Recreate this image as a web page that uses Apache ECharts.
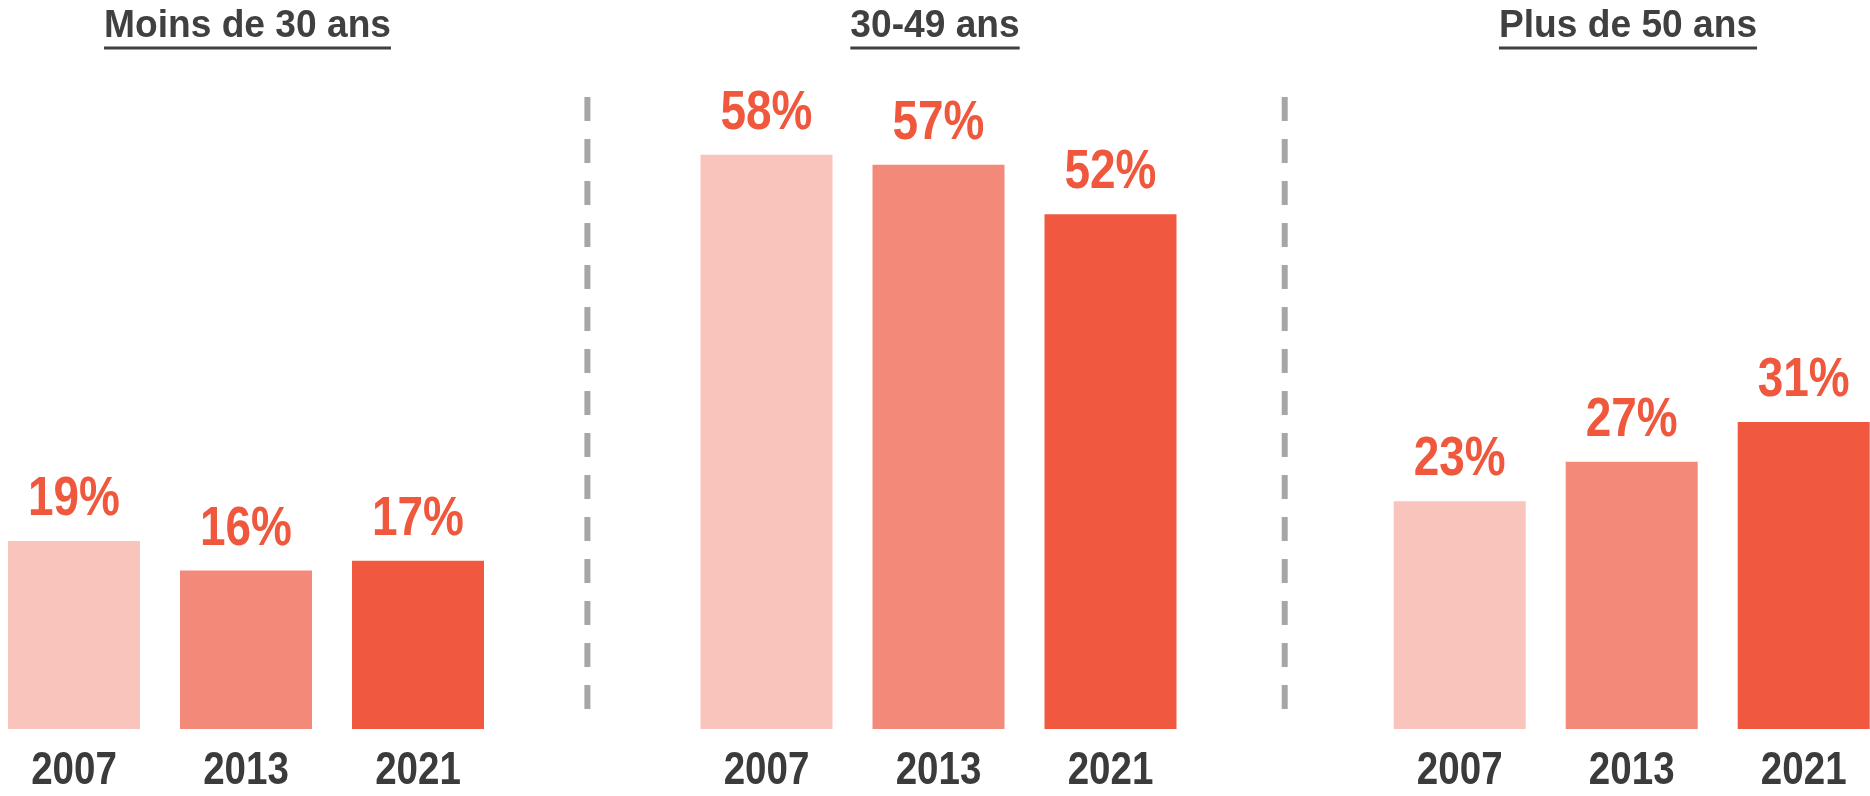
<!DOCTYPE html>
<html>
<head>
<meta charset="utf-8">
<script src="https://cdn.jsdelivr.net/npm/echarts@6/dist/echarts.min.js"></script>
<style>
html,body{margin:0;padding:0;background:#fff;}
#chart{width:1870px;height:796px;}
</style>
</head>
<body>
<div id="chart"></div>
<script>
// ---- data ----
const groupTitles = ['Moins de 30 ans', '30-49 ans', 'Plus de 50 ans'];
const years = ['2007', '2013', '2021'];
const moins30 = [19, 16, 17];
const age30to49 = [58, 57, 52];
const plus50 = [23, 27, 31];
const yearColors = ['#F9C4BB', '#F38A79', '#F0593F'];

// ---- layout ----
const panelValues = [moins30, age30to49, plus50];
const pitch = 172;                        // px between bar centres
const gridLeft = [0, 680.5, 1373.7];
const gridRight = [504, 1196.5, 1870];
const firstCentre = [74, 766.5, 1459.7];
const titleCentres = [247.5, 935, 1628];
const separatorsX = [587.4, 1284.7];
const gridTop = 135, gridBottomPx = 729;

const narrowFamily = "'Liberation Sans', Arial, sans-serif";
const narrowScale = 0.82;                 // emulate Arial Narrow Bold
const titleFont = "bold 38.5px 'Liberation Sans', Arial, sans-serif";
const titleScale = 0.965;

const chart = echarts.init(document.getElementById('chart'), null, {renderer: 'canvas'});

const grids = [], xAxes = [], yAxes = [], series = [];
panelValues.forEach((vals, i) => {
  const xmin = -(firstCentre[i] - gridLeft[i]) / pitch;
  const xmax = xmin + (gridRight[i] - gridLeft[i]) / pitch;
  grids.push({left: gridLeft[i], width: gridRight[i] - gridLeft[i], top: gridTop, bottom: 796 - gridBottomPx});
  xAxes.push({type: 'value', gridIndex: i, min: xmin, max: xmax, show: false, splitLine: {show: false}});
  yAxes.push({type: 'value', gridIndex: i, min: 0, max: 60, show: false, splitLine: {show: false}});
  const pts = vals.map((v, j) => [j, v]);
  series.push({
    type: 'bar', xAxisIndex: i, yAxisIndex: i, barWidth: 132, silent: true,
    data: pts.map((p, j) => ({value: p, itemStyle: {color: yearColors[j]}}))
  });
  // value labels
  series.push({
    type: 'custom', xAxisIndex: i, yAxisIndex: i, silent: true, clip: false,
    encode: {x: 0, y: 1},
    data: pts,
    renderItem: (params, api) => {
      const c = api.coord([api.value(0), api.value(1)]);
      return {
        type: 'text', x: c[0], y: c[1] - 41.4, scaleX: narrowScale, scaleY: 1,
        style: {text: api.value(1) + '%', font: "bold 56px " + narrowFamily, fill: '#F0583E',
                align: 'center', verticalAlign: 'middle'}
      };
    }
  });
  // year (category) labels
  series.push({
    type: 'custom', xAxisIndex: i, yAxisIndex: i, silent: true, clip: false,
    encode: {x: 0, y: 1},
    data: years.map((y, j) => [j, 0]),
    renderItem: (params, api) => {
      const c = api.coord([api.value(0), 0]);
      return {
        type: 'text', x: c[0], y: c[1] + 42.5, scaleX: narrowScale, scaleY: 1,
        style: {text: years[params.dataIndex], font: "bold 47px " + narrowFamily, fill: '#3B3B3B',
                align: 'center', verticalAlign: 'middle'}
      };
    }
  });
});

// titles with underline
const mctx = document.createElement('canvas').getContext('2d');
mctx.font = titleFont;
const graphics = [];
groupTitles.forEach((t, i) => {
  const w = mctx.measureText(t).width * titleScale;
  graphics.push({
    type: 'text', x: titleCentres[i], y: 26.5, scaleX: titleScale,
    style: {text: t, fill: '#404040', font: titleFont, align: 'center', verticalAlign: 'middle'}
  });
  graphics.push({
    type: 'rect', x: titleCentres[i] - w / 2, y: 46.5, shape: {x: 0, y: 0, width: w, height: 3},
    style: {fill: '#404040'}
  });
});
separatorsX.forEach(x => {
  graphics.push({
    type: 'line', shape: {x1: x, y1: 97, x2: x, y2: 709},
    style: {stroke: '#A6A6A6', lineWidth: 6, lineDash: [24, 18]}
  });
});

chart.setOption({
  animation: false,
  backgroundColor: '#ffffff',
  grid: grids,
  xAxis: xAxes,
  yAxis: yAxes,
  series: series,
  graphic: graphics
});
</script>
</body>
</html>
